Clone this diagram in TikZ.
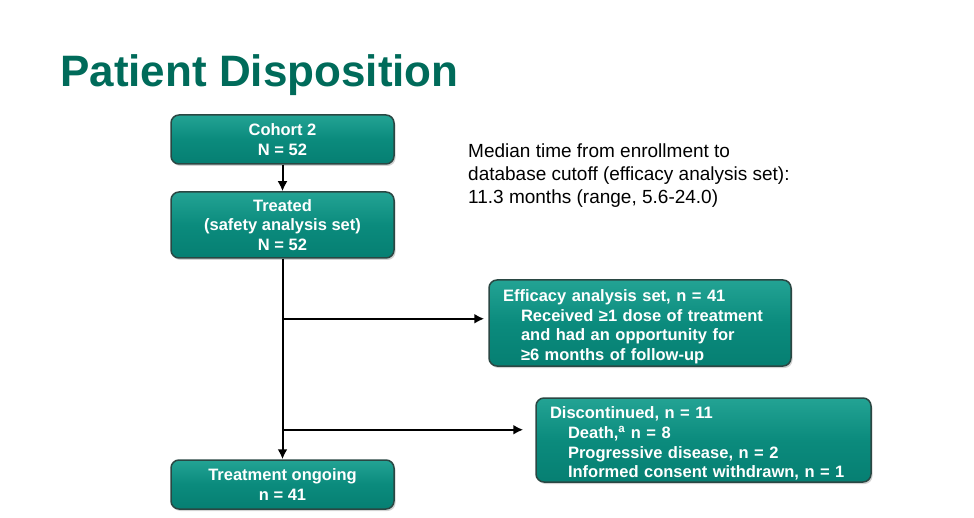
\documentclass[tikz,border=0pt]{standalone}
\usepackage{fontspec}
\setmainfont{Liberation Sans}
\usetikzlibrary{arrows.meta, positioning, shadows}
\definecolor{titlegreen}{HTML}{006B5A}
\definecolor{boxteal}{HTML}{0B8B7D}
\definecolor{boxtop}{HTML}{23A394}
\definecolor{boxbot}{HTML}{067F72}
\definecolor{boxline}{HTML}{2A4743}

\begin{document}
\begin{tikzpicture}[x=1pt, y=-1pt,
  box/.style={draw=boxline, line width=1.5pt, rounded corners=8pt,
              top color=boxtop, bottom color=boxbot, middle color=boxteal, text=white,
              font=\bfseries\fontsize{16.5}{19.5}\selectfont, align=center,
              minimum width=223pt, minimum height=49pt,
              drop shadow={shadow xshift=1.5pt, shadow yshift=-2pt, opacity=.35}},
  wide/.style={box, align=left, inner xsep=14pt, inner ysep=1pt, minimum height=86pt},
  arr/.style={-{Latex[length=10pt, width=10pt]}, line width=2pt}
]
\useasboundingbox (0,0) rectangle (974,518);
\node[anchor=base west, inner sep=0, text=titlegreen,
      font=\bfseries\fontsize{44}{50}\selectfont] (title) at (60,87) {Patient Disposition};
\node[anchor=north west, inner sep=0, align=left,
      font=\fontsize{19}{23}\selectfont] (median) at (468,144)
  {Median time from enrollment to\\database cutoff (efficacy analysis set):\\11.3 months (range, 5.6-24.0)};

\node[box] (cohort) at (282.5,139.5) {Cohort 2\\N = 52};
\node[box, minimum height=66pt] (treated) at (282.5,225) {Treated\\(safety analysis set)\\N = 52};
\node[box] (ongoing) at (282.5,484.5) {Treatment ongoing\\n = 41};
\node[wide, text width=274pt] (eff) at (640,323)
  {\rule{0pt}{19pt}Efficacy analysis set, n = 41\\
   \hspace*{18pt}Received \char"2265 1 dose of treatment\\
   \hspace*{18pt}and had an opportunity for\\
   \hspace*{18pt}\char"2265 6 months of follow-up};
\node[wide, text width=307pt, minimum height=84pt,
      font=\bfseries\fontsize{16.5}{19.8}\selectfont] (disc) at (703.5,440)
  {\rule{0pt}{19pt}Discontinued, n = 11\\
   \hspace*{18pt}Death,\textsuperscript{a} n = 8\\
   \hspace*{18pt}Progressive disease, n = 2\\
   \hspace*{18pt}Informed consent withdrawn, n = 1};

% trunk and branches
\path (treated.south) ++(0,60) coordinate (j1) ++(0,111) coordinate (j2);
\foreach \x/\y in {cohort/treated,treated/ongoing} \draw[arr] (\x) -- (\y);
\draw[arr, shorten >=4pt] (j1) -- (j1 -| eff.west);
\draw[arr, shorten >=12pt] (j2) -- (j2 -| disc.west);
\end{tikzpicture}
\end{document}
